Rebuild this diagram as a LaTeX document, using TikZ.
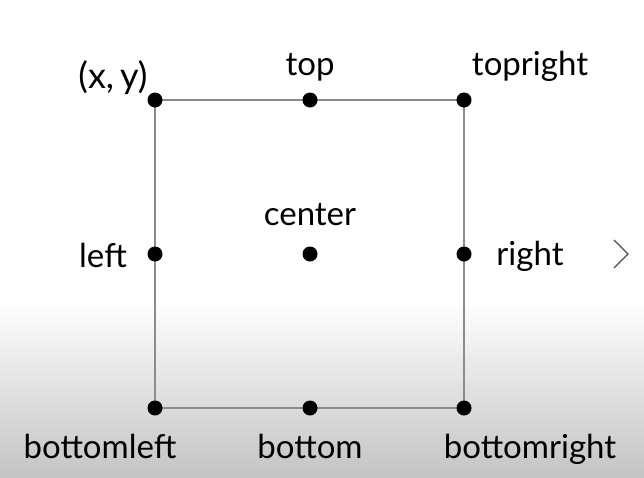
\documentclass[tikz,border=0pt]{standalone}
\usepackage{fontspec}
\setmainfont{Lato}
\usepackage{tikz}
\usetikzlibrary{positioning}
\definecolor{edgegray}{RGB}{140, 140, 140}
\definecolor{shadegray}{RGB}{196, 196, 196}

\begin{document}
\begin{tikzpicture}[x=1pt, y=-1pt]
  \useasboundingbox (0, 0) rectangle (644, 477);
  % Background
  \fill[white] (0, 0) rectangle (644, 300);
  \shade[top color=white, bottom color=shadegray] (0, 300) rectangle (644, 477);

  % Square
  \coordinate (tl) at (155, 100);
  \coordinate (tr) at (464, 100);
  \coordinate (br) at (464, 408);
  \coordinate (bl) at (155, 408);
  \draw[edgegray, line width=1.5pt] (tl) -- (tr) -- (br) -- (bl) -- cycle;

  % Points
  \foreach \name/\pos in {ptl/{155,100}, pt/{310,100}, ptr/{464,100}, pl/{155,254}, pc/{310,254}, pr/{464,254}, pbl/{155,408}, pb/{310,408}, pbr/{464,408}}
    \node[circle, fill=black, inner sep=0pt, minimum size=15pt] (\name) at (\pos) {};

  % Labels
  \node[anchor=base, font=\fontsize{36}{42}\selectfont] (lxy) at (113, 88) {(x,\,y)};
  \node[anchor=base, font=\fontsize{33}{39}\selectfont] (ltop) at (310, 75) {top};
  \node[anchor=base, font=\fontsize{33}{39}\selectfont] (ltopright) at (530, 75) {topright};
  \node[anchor=base, font=\fontsize{33}{39}\selectfont] (lcenter) at (310, 225) {center};
  \node[anchor=base, font=\fontsize{33}{39}\selectfont] (lleft) at (103, 267) {left};
  \node[anchor=base, font=\fontsize{33}{39}\selectfont] (lright) at (530, 265) {right};
  \node[anchor=base, font=\fontsize{33}{39}\selectfont] (lbottomleft) at (100, 458) {bottomleft};
  \node[anchor=base, font=\fontsize{33}{39}\selectfont] (lbottom) at (310, 458) {bottom};
  \node[anchor=base, font=\fontsize{33}{39}\selectfont] (lbottomright) at (530, 458) {bottomright};

  % Next arrow
  \coordinate (na) at (614, 240);
  \coordinate (nb) at (628, 254);
  \coordinate (nc) at (614, 268);
  \draw[black!70, line width=1.2pt] (na) -- (nb) -- (nc);
\end{tikzpicture}
\end{document}
